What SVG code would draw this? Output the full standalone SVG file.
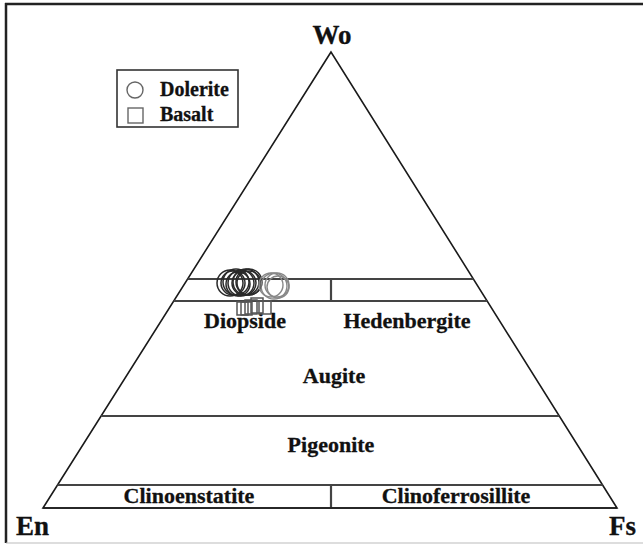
<svg xmlns="http://www.w3.org/2000/svg" width="643" height="546" viewBox="0 0 643 546">
<style>
text{font-family:"Liberation Serif","Times New Roman",serif;font-weight:bold;fill:#111;stroke:#111;stroke-width:0.3;}
.lbl{font-size:22px;text-anchor:middle;}
.sm{font-size:22px;text-anchor:middle;}
.corner{font-size:27px;}
.edge{stroke:#1a1a1a;stroke-width:1.6;fill:none;}
.hl{stroke:#444;stroke-width:2.2;fill:none;}
.dol{fill:none;stroke:#2a2a2a;stroke-width:1.5;}
.dol2{fill:none;stroke:#888;stroke-width:1.4;}
.bas{fill:none;stroke:#555;stroke-width:1.5;}
</style>
<rect width="643" height="546" fill="#fff"/>
<g id="frame">
<line x1="5" y1="4" x2="643" y2="4" stroke="#222" stroke-width="2.5"/>
<line x1="6" y1="3" x2="6" y2="543" stroke="#222" stroke-width="2.5"/>
<line x1="6" y1="543" x2="643" y2="543" stroke="#bbb" stroke-width="1.2"/>
</g>
<g id="connectors">
<polygon class="edge" points="331,52 43,508 617,508"/>
<line class="hl" x1="187.6" y1="279" x2="473.4" y2="279"/>
<line class="hl" x1="173.7" y1="301" x2="487.2" y2="301"/>
<line class="hl" x1="331" y1="279" x2="331" y2="301"/>
<line class="hl" x1="101.1" y1="416" x2="559.3" y2="416"/>
<line class="hl" x1="57.5" y1="485" x2="602.6" y2="485"/>
<line class="hl" x1="331" y1="485" x2="331" y2="508"/>
<line class="edge" x1="43" y1="508" x2="617" y2="508"/>
</g>
<g id="Wo"><text class="corner" x="332" y="44" text-anchor="middle">Wo</text></g>
<g id="En"><text class="corner" x="16" y="535">En</text></g>
<g id="Fs"><text class="corner" x="609" y="535">Fs</text></g>
<g id="diopside"><text class="lbl" x="245" y="328">Diopside</text></g>
<g id="hedenbergite"><text class="lbl" x="407" y="328">Hedenbergite</text></g>
<g id="augite"><text class="lbl" x="334" y="383">Augite</text></g>
<g id="pigeonite"><text class="lbl" x="331" y="452">Pigeonite</text></g>
<g id="clinoenstatite"><text class="sm" x="189" y="503">Clinoenstatite</text></g>
<g id="clinoferrosillite"><text class="sm" x="456" y="503">Clinoferrosillite</text></g>
<g id="legend">
<rect x="117" y="70" width="121" height="57" fill="#fff" stroke="#333" stroke-width="1.6"/>
<circle cx="135" cy="90" r="8" fill="none" stroke="#666" stroke-width="1.4"/>
<rect x="128" y="108" width="15" height="15" fill="none" stroke="#666" stroke-width="1.4"/>
<text x="160" y="96" font-size="20">Dolerite</text>
<text x="160" y="121" font-size="20">Basalt</text>
</g>
<g id="data">
<circle class="dol" cx="230" cy="283" r="13"/>
<circle class="dol" cx="233" cy="283" r="12"/>
<circle class="dol" cx="236" cy="282" r="13"/>
<circle class="dol" cx="238" cy="284" r="12"/>
<circle class="dol" cx="241" cy="283" r="13"/>
<circle class="dol" cx="244" cy="283" r="12"/>
<circle class="dol" cx="246" cy="282" r="13"/>
<circle class="dol" cx="249" cy="283" r="12"/>
<circle class="dol" cx="249" cy="282" r="13"/>
<circle class="dol2" cx="271" cy="285" r="12"/>
<circle class="dol2" cx="274" cy="286" r="13"/>
<circle class="dol2" cx="277" cy="285" r="12"/>
<circle class="dol2" cx="278" cy="287" r="11"/>
<rect class="bas" x="237" y="302" width="11" height="13"/>
<rect class="bas" x="241" y="302" width="11" height="13"/>
<rect class="bas" x="245" y="300" width="12" height="14"/>
<rect class="bas" x="251" y="298" width="12" height="15"/>
<rect class="bas" x="259" y="301" width="12" height="13"/>
</g>
</svg>
